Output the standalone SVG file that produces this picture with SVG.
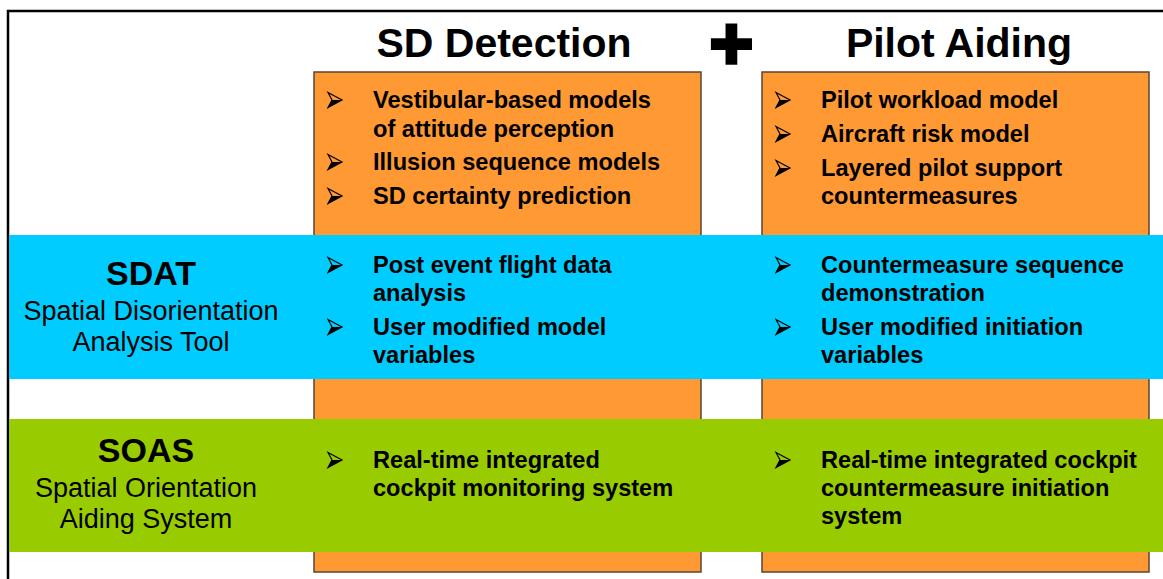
<svg xmlns="http://www.w3.org/2000/svg" width="1163" height="579" viewBox="0 0 1163 579">
<style>
.title{font-family:"Liberation Sans",Arial,sans-serif;font-weight:bold;font-size:41px;fill:#000;text-anchor:middle}
.plus{font-family:"Liberation Sans",Arial,sans-serif;font-weight:bold;font-size:75px;fill:#000;stroke:#000;stroke-width:3.5;text-anchor:middle}
.b{font-family:"Liberation Sans",Arial,sans-serif;font-weight:bold;font-size:23.6px;fill:#000}
.hd{font-family:"Liberation Sans",Arial,sans-serif;font-weight:bold;font-size:34px;fill:#000;text-anchor:middle}
.sub{font-family:"Liberation Sans",Arial,sans-serif;font-size:27px;fill:#000;text-anchor:middle}
.box{fill:#FF9933;stroke:#5a4632;stroke-width:1.5}
</style>
<defs>
<g id="bul">
<polygon points="0,-7.5 14,0 0,7.5 4,0" fill="none" stroke="#000" stroke-width="1.2" stroke-linejoin="miter"/>
<polygon points="4,0 14,0 0,7.5" fill="#000"/>
</g>
</defs>
<rect width="1163" height="579" fill="#fff"/>
<path d="M8,580 V11 H1170" fill="none" stroke="#000" stroke-width="2.5"/>
<g id="titles">
<text class="title" x="504" y="57">SD Detection</text>
<text class="plus" x="731.5" y="68.5">+</text>
<text class="title" x="959" y="57">Pilot Aiding</text>
</g>
<g id="sd-detection">
<rect class="box" x="314" y="72" width="387" height="500"/>
<use href="#bul" x="328" y="100"/>
<text class="b" x="373" y="108">Vestibular-based models</text>
<text class="b" x="373" y="137">of attitude perception</text>
<use href="#bul" x="328" y="162"/>
<text class="b" x="373" y="170">Illusion sequence models</text>
<use href="#bul" x="328" y="196"/>
<text class="b" x="373" y="204">SD certainty prediction</text>
</g>
<g id="pilot-aiding">
<rect class="box" x="762" y="72" width="387" height="500"/>
<use href="#bul" x="776" y="100"/>
<text class="b" x="821" y="108">Pilot workload model</text>
<use href="#bul" x="776" y="134"/>
<text class="b" x="821" y="142">Aircraft risk model</text>
<use href="#bul" x="776" y="168"/>
<text class="b" x="821" y="176">Layered pilot support</text>
<text class="b" x="821" y="204">countermeasures</text>
</g>
<g id="sdat">
<rect x="9" y="235" width="1154" height="144" fill="#00CCFF"/>
<text class="hd" x="151" y="285">SDAT</text>
<text class="sub" x="151" y="320">Spatial Disorientation</text>
<text class="sub" x="151" y="351">Analysis Tool</text>
<use href="#bul" x="328" y="265"/>
<text class="b" x="373" y="273">Post event flight data</text>
<text class="b" x="373" y="301">analysis</text>
<use href="#bul" x="328" y="327"/>
<text class="b" x="373" y="335">User modified model</text>
<text class="b" x="373" y="363">variables</text>
<use href="#bul" x="776" y="265"/>
<text class="b" x="821" y="273">Countermeasure sequence</text>
<text class="b" x="821" y="301">demonstration</text>
<use href="#bul" x="776" y="327"/>
<text class="b" x="821" y="335">User modified initiation</text>
<text class="b" x="821" y="363">variables</text>
</g>
<g id="soas">
<rect x="9" y="419" width="1154" height="133" fill="#99CC00"/>
<text class="hd" x="146" y="462">SOAS</text>
<text class="sub" x="146" y="497">Spatial Orientation</text>
<text class="sub" x="146" y="528">Aiding System</text>
<use href="#bul" x="328" y="460"/>
<text class="b" x="373" y="468">Real-time integrated</text>
<text class="b" x="373" y="496">cockpit monitoring system</text>
<use href="#bul" x="776" y="460"/>
<text class="b" x="821" y="468">Real-time integrated cockpit</text>
<text class="b" x="821" y="496">countermeasure initiation</text>
<text class="b" x="821" y="524">system</text>
</g>
<g id="connectors"/>
</svg>
